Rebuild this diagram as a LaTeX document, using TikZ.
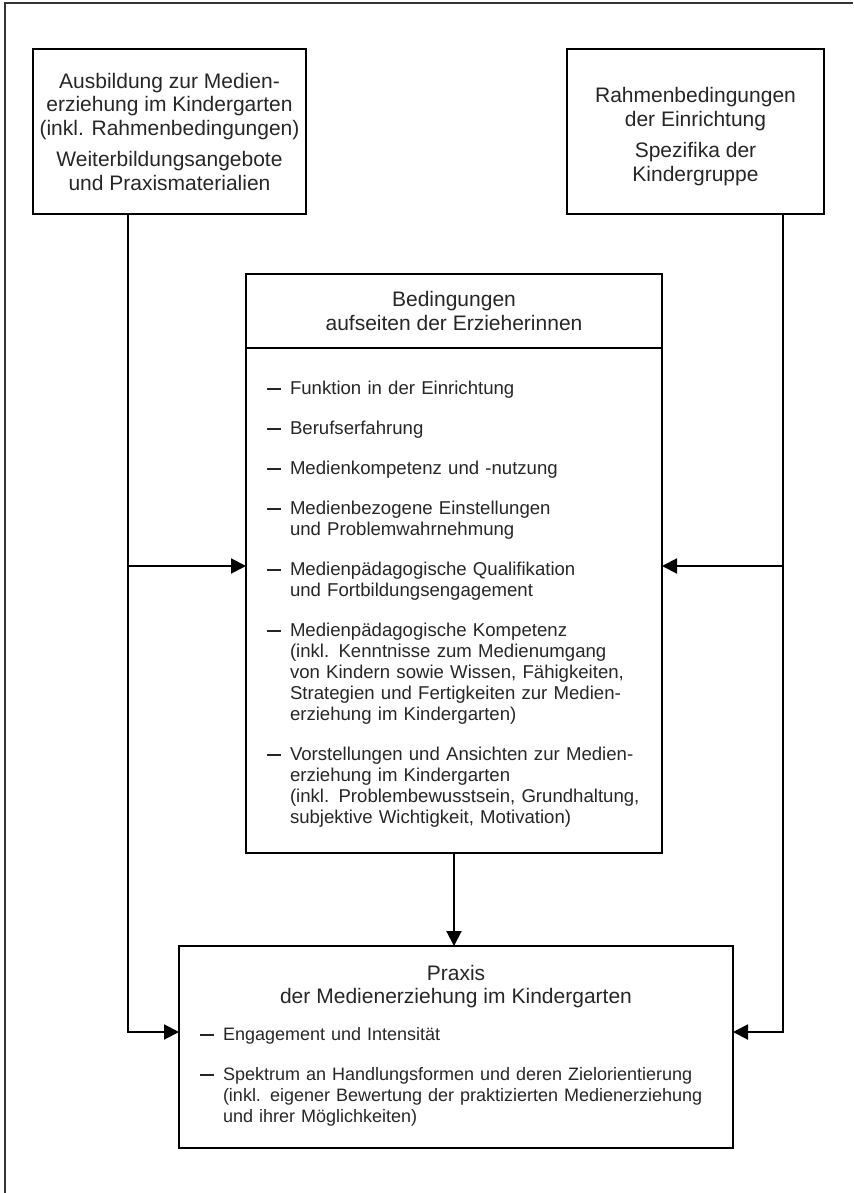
\documentclass[tikz,border=0pt]{standalone}
\usepackage{fontspec}
\setmainfont{Liberation Sans}
\usetikzlibrary{arrows.meta,positioning}

\newcommand{\titelschrift}{\fontsize{10.5}{11.75}\selectfont}
\newcommand{\strich}{\rule[2.6pt]{7pt}{0.75pt}}

\begin{document}
\begin{tikzpicture}[
  x=0.5pt,
  y=-0.5pt,
  line width=1pt,
  kasten/.style={draw, outer sep=0pt, text=black!85},
  titel/.style={font=\titelschrift, align=center},
  liste/.style={font=\fontsize{9.3}{10.5}\selectfont, align=left, inner xsep=10.5pt},
  pfeil/.style={-{Triangle[length=7.5pt,width=7.5pt]}},
]
  \useasboundingbox (0,0) rectangle (853,1193);
  \draw[black!80] (5,1193) -- (5,3) -- (853,3);

  \node[kasten, titel, minimum width=129.5pt, minimum height=82.5pt] (ausbildung) at (169.5,131.5)
    {Ausbildung zur Medien-\\erziehung im Kindergarten\\(inkl. Rahmenbedingungen)\\[4pt]Weiterbildungsangebote\\und Praxismaterialien};
  \node[kasten, titel, minimum width=128.5pt, minimum height=82.5pt, text height=52pt] (rahmen) at (695.5,131.5)
    {Rahmenbedingungen\\der Einrichtung\\[4pt]Spezifika der\\Kindergruppe};

  \node[kasten, titel, minimum width=208pt, minimum height=37pt] (bedkopf) at (454,311)
    {Bedingungen\\aufseiten der Erzieherinnen};
  \node[kasten, liste, text width=187pt, minimum height=252.5pt, below=0pt of bedkopf] (bedliste) {%
    \vspace*{-4.5pt}\noindent
    \begin{tabular}[t]{@{}p{11.5pt}@{}l@{}}
      \strich & Funktion in der Einrichtung\\[9.5pt]
      \strich & Berufserfahrung\\[9.5pt]
      \strich & Medienkompetenz und -nutzung\\[9.5pt]
      \strich & Medienbezogene Einstellungen\\
              & und Problemwahrnehmung\\[9.5pt]
      \strich & Medienpädagogische Qualifikation\\
              & und Fortbildungsengagement\\[9.5pt]
      \strich & Medienpädagogische Kompetenz\\
              & (inkl. Kenntnisse zum Medienumgang\\
              & von Kindern sowie Wissen, Fähigkeiten,\\
              & Strategien und Fertigkeiten zur Medien-\\
              & erziehung im Kindergarten)\\[9.5pt]
      \strich & Vorstellungen und Ansichten zur Medien-\\
              & erziehung im Kindergarten\\
              & (inkl. Problembewusstsein, Grundhaltung,\\
              & subjektive Wichtigkeit, Motivation)
    \end{tabular}};

  \node[kasten, liste, font=\fontsize{9}{10.5}\selectfont, text width=256pt, minimum height=101pt] (praxis) at (456,1047) {%
    {\centering\titelschrift Praxis\par der Medienerziehung im Kindergarten\par}
    \vspace{8pt}\noindent
    \begin{tabular}[t]{@{}p{11.5pt}@{}l@{}}
      \strich & Engagement und Intensität\\[9.5pt]
      \strich & Spektrum an Handlungsformen und deren Zielorientierung\\
              & (inkl. eigener Bewertung der praktizierten Medienerziehung\\
              & und ihrer Möglichkeiten)
    \end{tabular}};

  \coordinate (lspur) at (128,566);
  \coordinate (rspur) at (783,566);
  \coordinate (unten) at (0,1032);

  \draw[pfeil] (ausbildung.south -| lspur) |- (praxis.west |- unten);
  \draw[pfeil] (lspur) -- (bedliste.west |- lspur);
  \draw[pfeil] (rahmen.south -| rspur) |- (praxis.east |- unten);
  \draw[pfeil] (rspur) -- (bedliste.east |- rspur);
  \draw[pfeil] (bedliste.south) -- (praxis.north -| bedliste.south);

\end{tikzpicture}
\end{document}
